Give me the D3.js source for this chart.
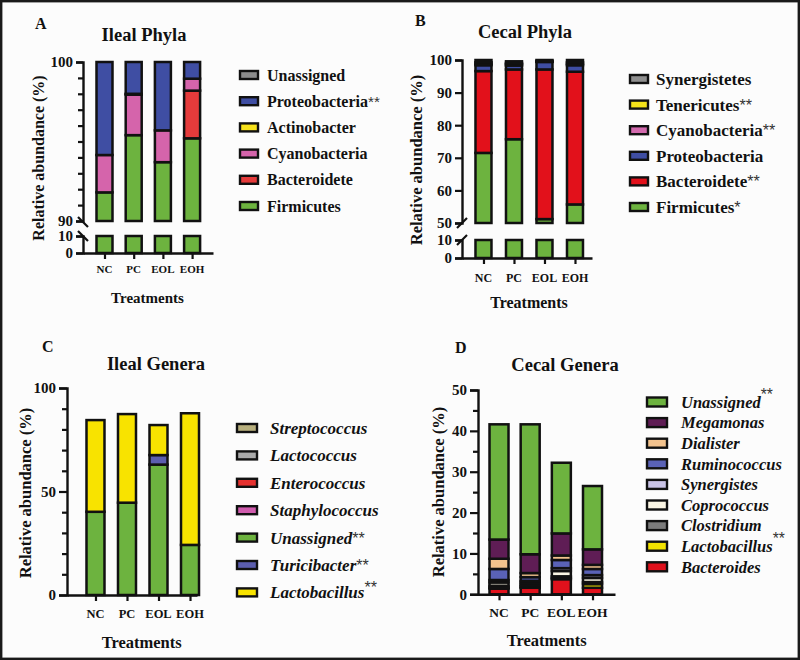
<!DOCTYPE html>
<html><head><meta charset="utf-8">
<script src="https://cdn.jsdelivr.net/npm/d3@7"></script>
<style>body{margin:0;background:#fcfcfc}svg{display:block}</style>
</head><body><svg id="chart" width="800" height="660"></svg>
<script>
// ---------------- DATA ----------------
const treatments = ["NC", "PC", "EOL", "EOH"];

// A: Ileal phyla (stack order bottom -> top)
const ilealPhylaNames = ["Firmicutes", "Bacteroidete", "Cyanobacteria", "Actinobacter", "Proteobacteria", "Unassigned"];
const ilealPhylaMarks = ["", "", "", "", "**", ""];
const ilealFirmicutes     = [91.8, 95.4, 93.7, 95.2];
const ilealBacteroidete   = [0.0, 0.0, 0.0, 3.0];
const ilealCyanobacteria  = [2.35, 2.55, 2.0, 0.75];
const ilealActinobacter   = [0.0, 0.05, 0.0, 0.0];
const ilealProteobacteria = [5.85, 2.0, 4.3, 1.05];
const ilealUnassignedPh   = [0.0, 0.0, 0.0, 0.0];
const ilealPhylaTicksLow  = [0, 10];
const ilealPhylaTicksHigh = [90, 91, 92, 93, 94, 95, 96, 97, 98, 99, 100];
const ilealPhylaTickLabels = [0, 10, 90, 100];

// B: Cecal phyla
const cecalPhylaNames = ["Firmicutes", "Bacteroidete", "Proteobacteria", "Cyanobacteria", "Tenericutes", "Synergistetes"];
const cecalPhylaMarks = ["*", "**", "", "**", "**", ""];
const cecalFirmicutes     = [71.5, 75.7, 51.2, 55.7];
const cecalBacteroidete   = [25.1, 21.4, 45.9, 40.7];
const cecalProteobacteria = [1.8, 1.2, 2.3, 2.0];
const cecalCyanobacteria  = [0.4, 0.4, 0.1, 0.4];
const cecalTenericutes    = [0.5, 0.4, 0.2, 0.5];
const cecalSynergistetes  = [0.7, 0.5, 0.3, 0.7];
const cecalPhylaTicksLow  = [0, 10];
const cecalPhylaTicksHigh = [50, 60, 70, 80, 90, 100];
const cecalPhylaTickLabels = [0, 10, 50, 60, 70, 80, 90, 100];

// C: Ileal genera (stack order bottom -> top)
const ilealGeneraNames = ["Unassigned", "Turicibacter", "Lactobacillus", "Staphylococcus", "Enterococcus", "Lactococcus", "Streptococcus"];
const ilealGeneraMarks = ["**", "**", "**", "", "", "", ""];
const ilealGenUnassigned     = [40.2, 44.6, 63.0, 24.2];
const ilealGenTuricibacter   = [0.0, 0.0, 4.6, 0.0];
const ilealGenLactobacillus  = [44.3, 42.8, 14.5, 63.6];
const ilealGenStaphylococcus = [0.0, 0.0, 0.0, 0.0];
const ilealGenEnterococcus   = [0.0, 0.0, 0.0, 0.0];
const ilealGenLactococcus    = [0.0, 0.0, 0.0, 0.0];
const ilealGenStreptococcus  = [0.0, 0.0, 0.0, 0.0];
const ilealGeneraLegendOrder = ["Streptococcus", "Lactococcus", "Enterococcus", "Staphylococcus", "Unassigned", "Turicibacter", "Lactobacillus"];
const ilealGeneraTicks = [0, 10, 20, 30, 40, 50, 60, 70, 80, 90, 100];
const ilealGeneraTickLabels = [0, 50, 100];

// D: Cecal genera (stack order bottom -> top)
const cecalGeneraNames = ["Bacteroides", "Lactobacillus", "Clostridium", "Coprococcus", "Synergistes", "Ruminococcus", "Dialister", "Megamonas", "Unassigned"];
const cecalGeneraMarks = ["", "**", "", "", "", "", "", "", "**"];
const cecalGenBacteroides   = [1.4, 1.6, 3.7, 1.6];
const cecalGenLactobacillus = [0.2, 0.3, 0.3, 0.9];
const cecalGenClostridium   = [0.5, 0.4, 0.4, 0.5];
const cecalGenCoprococcus   = [0.8, 0.5, 1.3, 1.0];
const cecalGenSynergistes   = [0.6, 0.5, 0.7, 0.7];
const cecalGenRuminococcus  = [2.7, 0.9, 2.0, 1.5];
const cecalGenDialister     = [2.5, 1.0, 1.1, 1.0];
const cecalGenMegamonas     = [4.7, 4.6, 5.4, 3.8];
const cecalGenUnassigned    = [28.2, 31.8, 17.3, 15.5];
const cecalGeneraTicks = [0, 5, 10, 15, 20, 25, 30, 35, 40, 45, 50];
const cecalGeneraTickLabels = [0, 10, 20, 30, 40, 50];

// ---------------- STYLE ----------------
const GREEN = "#6db33f";
const SERIF = "'Liberation Serif','Times New Roman',Times,serif";
const INK = "#111";

const svg = d3.select("#chart");
svg.append("rect").attr("width", 800).attr("height", 660).attr("fill", "#fcfcfc");
svg.append("rect").attr("x", 1.2).attr("y", 1.2).attr("width", 797.6).attr("height", 657.6)
  .attr("fill", "none").attr("stroke", "#1a1a1a").attr("stroke-width", 2.4);

function panel(cfg) {
  const g = svg.append("g");
  const x = d3.scalePoint().domain(treatments).range([cfg.x0, cfg.x1]).padding(cfg.pad).align(cfg.align);
  const rows = treatments.map((t, i) => {
    const r = { t };
    cfg.series.forEach((s, k) => r[k] = s[i]);
    return r;
  });
  const keys = cfg.series.map((s, k) => k);
  const stacked = d3.stack().keys(keys)(rows);
  const segs = cfg.segments.map(s => Object.assign({}, s, { scale: d3.scaleLinear().domain(s.domain).range(s.range) }));

  // pieces of bars clipped to axis segments
  const pieces = [];
  stacked.forEach((layer, k) => {
    layer.forEach((d, i) => {
      segs.forEach(s => {
        const lo = Math.max(d[0], s.domain[0]), hi = Math.min(d[1], s.domain[1]);
        if (hi - lo > 1e-9) pieces.push({ t: treatments[i], k, lo, hi, s });
      });
    });
  });
  g.append("g").selectAll("rect").data(pieces).join("rect")
    .attr("x", d => x(d.t) - cfg.barW / 2)
    .attr("y", d => d.s.scale(d.hi))
    .attr("width", cfg.barW)
    .attr("height", d => d.s.scale(d.lo) - d.s.scale(d.hi))
    .attr("fill", d => cfg.colors[d.k])
    .attr("stroke", INK).attr("stroke-width", 2.5);

  // y axes
  segs.forEach(s => {
    const ax = g.append("g").attr("transform", `translate(${cfg.x0},0)`)
      .call(d3.axisLeft(s.scale).tickValues(s.ticks).tickSizeOuter(0).tickSize(cfg.major).tickPadding(3)
        .tickFormat(d => cfg.tickLabels.includes(d) ? d : ""));
    ax.selectAll(".tick line").attr("x2", d => cfg.tickLabels.includes(d) ? -cfg.major : -cfg.minor)
      .attr("stroke", INK).attr("stroke-width", 2.2);
    ax.select(".domain").attr("stroke", INK).attr("stroke-width", 2.4);
    ax.selectAll("text").attr("font-family", SERIF).attr("font-size", cfg.tickFont)
      .attr("font-weight", "bold").attr("fill", INK);
  });

  // break marks
  if (cfg.breaks) {
    cfg.breaks.forEach(yc => {
      const dir = cfg.breakDir;
      g.append("line")
        .attr("x1", cfg.x0 - 5).attr("y1", yc - 5 * dir)
        .attr("x2", cfg.x0 + 5).attr("y2", yc + 5 * dir)
        .attr("stroke", INK).attr("stroke-width", 2.2);
    });
  }

  // x axis
  const xa = g.append("g").attr("transform", `translate(0,${cfg.yBase})`)
    .call(d3.axisBottom(x).tickSize(6).tickSizeOuter(0).tickFormat(""));
  xa.select(".domain").attr("stroke", INK).attr("stroke-width", 2.4);
  xa.selectAll(".tick line").attr("stroke", INK).attr("stroke-width", 2.2);

  g.append("g").selectAll("text").data(treatments).join("text")
    .attr("x", d => x(d)).attr("y", cfg.catY)
    .attr("text-anchor", "middle").attr("font-family", SERIF).attr("font-weight", "bold")
    .attr("font-size", cfg.catFont).attr("fill", INK).text(d => d);

  // titles
  g.append("text").attr("x", cfg.xTitle[0]).attr("y", cfg.xTitle[1]).attr("text-anchor", "middle")
    .attr("font-family", SERIF).attr("font-weight", "bold").attr("font-size", cfg.xTitleFont)
    .attr("fill", INK).text("Treatments");
  g.append("text").attr("transform", `translate(${cfg.yTitle[0]},${cfg.yTitle[1]}) rotate(-90)`)
    .attr("text-anchor", "middle").attr("dy", "0.35em")
    .attr("font-family", SERIF).attr("font-weight", "bold").attr("font-size", cfg.yTitleFont)
    .attr("fill", INK).text("Relative abundance (%)");
  g.append("text").attr("x", cfg.title[0]).attr("y", cfg.title[1]).attr("text-anchor", "middle")
    .attr("font-family", SERIF).attr("font-weight", "bold").attr("font-size", 18.5)
    .attr("fill", INK).text(cfg.titleText);
  g.append("text").attr("x", cfg.letter[0]).attr("y", cfg.letter[1])
    .attr("font-family", SERIF).attr("font-weight", "bold").attr("font-size", 16)
    .attr("fill", INK).text(cfg.letterText);

  // legend
  const L = cfg.legend;
  const items = cfg.legendOrder.map(name => {
    const k = cfg.names.indexOf(name);
    return { name, k, mark: cfg.marks[k] };
  });
  const lg = g.append("g").selectAll("g").data(items).join("g")
    .attr("transform", (d, i) => `translate(0,${L.y0 + i * L.step})`);
  lg.append("rect").attr("x", L.boxX).attr("y", -L.boxH / 2).attr("width", L.boxW).attr("height", L.boxH)
    .attr("fill", d => cfg.colors[d.k]).attr("stroke", INK).attr("stroke-width", 2.4);
  const tx = lg.append("text").attr("x", L.textX).attr("dy", "0.35em")
    .attr("font-family", SERIF).attr("font-weight", "bold").attr("font-size", L.font)
    .attr("font-style", L.italic ? "italic" : "normal").attr("fill", INK);
  tx.append("tspan").text(d => d.name);
  tx.append("tspan")
    .attr("dy", d => (L.raise[d.name] || 0) === 0 ? null : -L.raise[d.name])
    .attr("font-style", "normal").attr("font-weight", "normal").attr("font-family", "'Liberation Sans',Arial,sans-serif")
    .attr("font-size", L.font * 0.95).attr("fill", "#333")
    .text(d => d.mark);
}

// Panel A
panel({
  names: ilealPhylaNames, marks: ilealPhylaMarks,
  series: [ilealFirmicutes, ilealBacteroidete, ilealCyanobacteria, ilealActinobacter, ilealProteobacteria, ilealUnassignedPh],
  colors: [GREEN, "#e53b3b", "#d564ab", "#f7e21b", "#3f4ea3", "#8c8c8c"],
  legendOrder: ilealPhylaNames.slice().reverse(),
  x0: 83, x1: 213, pad: 0.726, align: 0.507, barW: 16, yBase: 253,
  segments: [
    { domain: [0, 10], range: [253, 236], ticks: ilealPhylaTicksLow },
    { domain: [90, 100], range: [221, 62], ticks: ilealPhylaTicksHigh }
  ],
  tickLabels: ilealPhylaTickLabels,
  breaks: [222, 236], breakDir: 1,
  major: 7, minor: 5, tickFont: 15,
  catY: 273, catFont: 11,
  xTitle: [147.5, 303], xTitleFont: 15,
  yTitle: [38, 158], yTitleFont: 16,
  title: [144, 41], titleText: "Ileal Phyla",
  letter: [35, 29], letterText: "A",
  legend: { boxX: 240, boxW: 18, boxH: 8, textX: 267, y0: 75, step: 26.2, font: 16, italic: false, raise: {} }
});

// Panel B
panel({
  names: cecalPhylaNames, marks: cecalPhylaMarks,
  series: [cecalFirmicutes, cecalBacteroidete, cecalProteobacteria, cecalCyanobacteria, cecalTenericutes, cecalSynergistetes],
  colors: [GREEN, "#e2111b", "#3f4ea3", "#d36aae", "#f5e31a", "#8f8f8f"],
  legendOrder: cecalPhylaNames.slice().reverse(),
  x0: 462, x1: 592, pad: 0.631, align: 0.558, barW: 16, yBase: 258,
  segments: [
    { domain: [0, 10], range: [258, 240], ticks: cecalPhylaTicksLow },
    { domain: [50, 100], range: [223, 60], ticks: cecalPhylaTicksHigh }
  ],
  tickLabels: cecalPhylaTickLabels,
  breaks: [223, 240], breakDir: -1,
  major: 7, minor: 5, tickFont: 15,
  catY: 282, catFont: 12,
  xTitle: [529, 308], xTitleFont: 16,
  yTitle: [416, 160], yTitleFont: 16.5,
  title: [525, 38], titleText: "Cecal Phyla",
  letter: [415, 26], letterText: "B",
  legend: { boxX: 630, boxW: 18, boxH: 8, textX: 656, y0: 79, step: 25.6, font: 17, italic: false, raise: {} }
});

// Panel C
panel({
  names: ilealGeneraNames, marks: ilealGeneraMarks,
  series: [ilealGenUnassigned, ilealGenTuricibacter, ilealGenLactobacillus, ilealGenStaphylococcus, ilealGenEnterococcus, ilealGenLactococcus, ilealGenStreptococcus],
  colors: [GREEN, "#5c5eae", "#f8e300", "#d05cae", "#e5312f", "#a9a9a9", "#b8b07e"],
  legendOrder: ilealGeneraLegendOrder,
  x0: 67, x1: 197, pad: 0.563, align: 0.803, barW: 18, yBase: 595,
  segments: [{ domain: [0, 100], range: [595, 388], ticks: ilealGeneraTicks }],
  tickLabels: ilealGeneraTickLabels,
  major: 8, minor: 5, tickFont: 15,
  catY: 618, catFont: 12.5,
  xTitle: [141.7, 648], xTitleFont: 16.5,
  yTitle: [25, 493], yTitleFont: 16.5,
  title: [156, 370], titleText: "Ileal Genera",
  letter: [42, 352], letterText: "C",
  legend: { boxX: 237, boxW: 20, boxH: 8, textX: 270, y0: 428, step: 27.4, font: 17, italic: true, raise: { "Lactobacillus": 5 } }
});

// Panel D
panel({
  names: cecalGeneraNames, marks: cecalGeneraMarks,
  series: [cecalGenBacteroides, cecalGenLactobacillus, cecalGenClostridium, cecalGenCoprococcus, cecalGenSynergistes, cecalGenRuminococcus, cecalGenDialister, cecalGenMegamonas, cecalGenUnassigned],
  colors: ["#e0111c", "#f3e300", "#7b7b7b", "#fbf6e4", "#c9c3e6", "#5a62b6", "#f3c38e", "#5f1d55", GREEN],
  legendOrder: cecalGeneraNames.slice().reverse(),
  x0: 478, x1: 615, pad: 0.698, align: 0.483, barW: 19, yBase: 594.3,
  segments: [{ domain: [0, 50], range: [594.3, 390], ticks: cecalGeneraTicks }],
  tickLabels: cecalGeneraTickLabels,
  major: 8, minor: 5, tickFont: 15,
  catY: 617, catFont: 13.5,
  xTitle: [546.7, 646], xTitleFont: 16.5,
  yTitle: [438, 492], yTitleFont: 16.5,
  title: [565, 371], titleText: "Cecal Genera",
  letter: [455, 353], letterText: "D",
  legend: { boxX: 647, boxW: 20, boxH: 9, textX: 681, y0: 402, step: 20.6, font: 16.5, italic: true, raise: { "Unassigned": 8, "Lactobacillus": 8 } }
});
</script>
</body></html>
